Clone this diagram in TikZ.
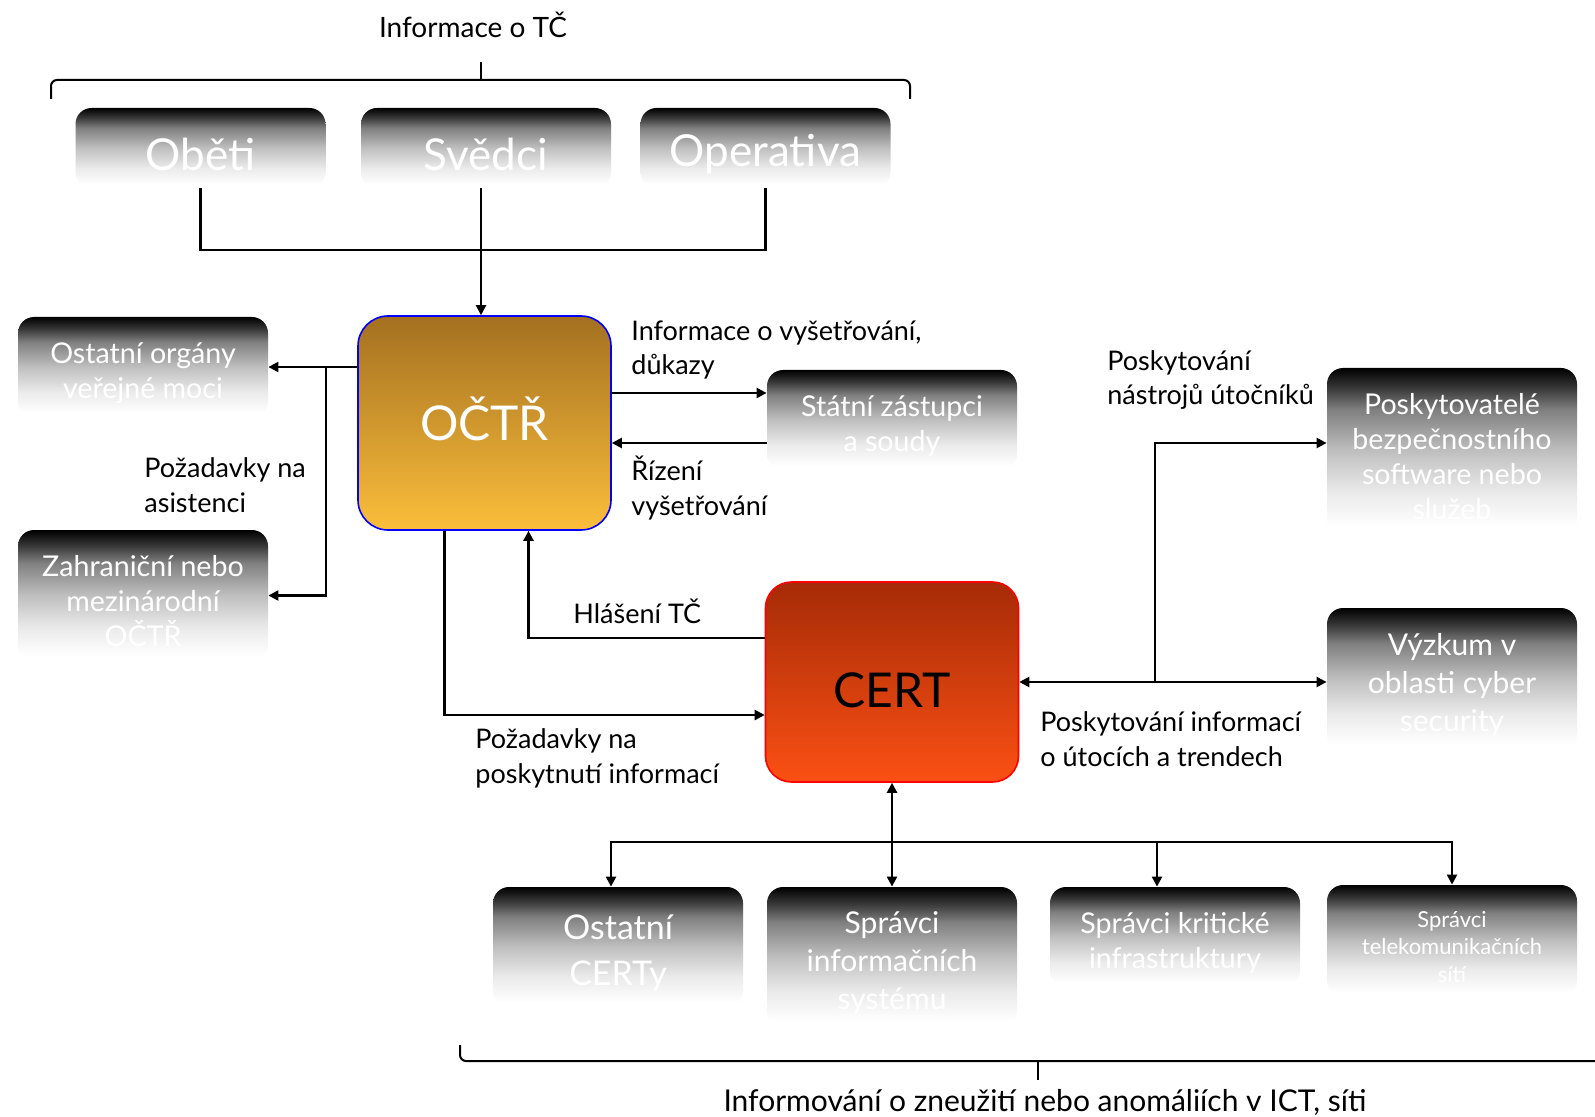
\documentclass[tikz,border=0pt]{standalone}
\usepackage{fontspec}
\setmainfont{Lato}
\usetikzlibrary{arrows.meta,calc}
\definecolor{octrtop}{HTML}{A47020}
\definecolor{octrbot}{HTML}{FBBE3B}
\definecolor{certtop}{HTML}{A62B07}
\definecolor{certbot}{HTML}{FB5014}
\pgfdeclareverticalshading{grayfade}{100bp}{color(0bp)=(white); color(27bp)=(white); color(37.5bp)=(black!8); color(50bp)=(black!25); color(62.5bp)=(black!50); color(69bp)=(black!78); color(75bp)=(black); color(100bp)=(black)}
\newcommand{\bxtitle}{\fontsize{22}{26}\selectfont}
\newcommand{\bxtext}{\fontsize{14.3}{17.5}\selectfont}
\newcommand{\bxbig}{\fontsize{15}{19}\selectfont}
\newcommand{\bxlarge}{\fontsize{17}{23}\selectfont}
\newcommand{\bxsmall}{\fontsize{11}{13.7}\selectfont}
\newcommand{\fadebox}[5][\bxtext]{\node[fadebox,minimum height=#4] (#2) at (#3) {};
        \node[fadetext,font=#1] (#2-t) at ([yshift=-3pt]#2.center) {#5};}

\begin{document}
\begin{tikzpicture}[x=0.5pt,y=-0.5pt,
        fadebox/.style={shade,shading=grayfade,rounded corners=8pt,minimum width=125pt,inner sep=0pt},
        fadetext/.style={text=white,align=center,inner sep=0pt},
        hub/.style={rounded corners=15pt,minimum width=126.5pt,align=center,line width=0.8pt,font=\fontsize{24}{28}\selectfont,text depth=0pt},
        wire/.style={line width=1.1pt},
        link/.style={wire,-{Triangle[length=5pt,width=5pt]}},
        link2/.style={wire,{Triangle[length=5pt,width=5pt]}-{Triangle[length=5pt,width=5pt]}},
        note/.style={align=left,anchor=west,inner sep=0pt,font=\fontsize{13.5}{17.3}\selectfont},
        brk/.style={line width=1pt,rounded corners=3pt}]
        \path[fill=white,use as bounding box] (0,0) rectangle (1595,1117);

        \node[hub,draw=blue,top color=octrtop,bottom color=octrbot,text=white,minimum height=107pt,text height=18pt] (octr) at (484.5,423) {OČTŘ};
        \node[hub,draw=red,top color=certtop,bottom color=certbot,minimum height=100pt,rounded corners=13pt,text height=25pt] (cert) at (892,682) {CERT};

        \fadebox[\bxtitle]{obeti}{200.5,148}{40pt}{Oběti}
        \fadebox[\bxtitle]{svedci}{486,148}{40pt}{Svědci}
        \fadebox[\bxtitle]{operativa}{765.5,148}{40pt}{Operativa}
        \fadebox{organy}{143,367}{50pt}{Ostatní orgány\\veřejné moci}
        \fadebox{zahr}{143,595.5}{65.5pt}{Zahraniční nebo\\mezinárodní\\OČTŘ}
        \fadebox{statni}{892,420}{50pt}{Státní zástupci\\a soudy}
        \fadebox{poskyt}{1452,451}{83pt}{Poskytovatelé\\bezpečnostního\\software nebo\\služeb}
        \fadebox[\bxbig]{vyzkum}{1452,679}{71pt}{Výzkum v\\oblasti cyber\\security}
        \fadebox[\bxlarge]{certy}{618,947}{60pt}{Ostatní\\CERTy}
        \fadebox[\bxbig]{infsys}{892,957}{70pt}{Správci\\informačních\\systému}
        \fadebox{kritic}{1175,937}{50pt}{Správci kritické\\infrastruktury}
        \fadebox[\bxsmall]{telek}{1452,941}{56pt}{Správci\\telekomunikačních\\sítí}

        \coordinate (join) at (481,250);
        \draw[wire] (obeti.south) |- (join) -| (operativa.south);
        \draw[link] ([xshift=-2.5pt]svedci.south) -- ([xshift=-2.5pt]svedci.south |- octr.north);

        \coordinate (asist) at (326,366);
        \draw[link] (octr.west |- organy) -- (organy.east);
        \draw[link] (asist) |- (zahr.east);

        \coordinate (vysl) at ([yshift=13.5pt]statni.west);
        \coordinate (rizeni) at ([yshift=-11.5pt]statni.west);
        \draw[link] (octr.east |- vysl) -- (vysl);
        \draw[link] (rizeni) -- (octr.east |- rizeni);

        \draw[link] ([yshift=22pt]cert.west) -| ([xshift=22pt]octr.south);
        \draw[link] ([xshift=-20pt]octr.south) |- ([yshift=-16.5pt]cert.west);

        \coordinate (nastroje) at (1155,682);
        \draw[link2] (cert.east) -- (vyzkum.west |- cert.east);
        \draw[link] (nastroje) |- ([yshift=4pt]poskyt.west);

        \coordinate (bus) at (892,842);
        \draw[link2] (cert.south) -- (infsys.north);
        \draw[link] (bus) -| ([xshift=-3.5pt]certy.north);
        \draw[link] (bus) -| ([xshift=-9pt]kritic.north);
        \draw[link] (bus) -| (telek.north);

        \draw[brk] (51,99) -- (51,80) -- (910,80) -- (910,99);
        \draw[brk] (481,80) -- (481,62);
        \draw[brk] (460,1045) -- (460,1061) -- (1610,1061);
        \draw[brk] (1038,1061) -- (1038,1080);

        \node[note,anchor=center,font=\fontsize{14}{17}\selectfont] (infotc) at (473,25) {Informace o TČ};
        \node[note] (asistence) at (144,485) {Požadavky na\\asistenci};
        \node[note] (vysetr) at (631,350) {Informace o vyšetřování,\\důkazy};
        \node[note] (rizenilbl) at (631,488) {Řízení\\vyšetřování};
        \node[note] (hlaseni) at (573,611) {Hlášení TČ};
        \node[note] (pozad) at (475,758.5) {Požadavky na\\poskytnutí informací};
        \node[note] (nastrlbl) at (1107,380) {Poskytování\\nástrojů útočníků};
        \node[note] (utoky) at (1040,739) {Poskytování informací\\o útocích a trendech};
        \node[note,anchor=center,font=\fontsize{15}{18}\selectfont] (ict) at (1045,1102) {Informování o zneužití nebo anomáliích v ICT, síti};
\end{tikzpicture}
\end{document}
